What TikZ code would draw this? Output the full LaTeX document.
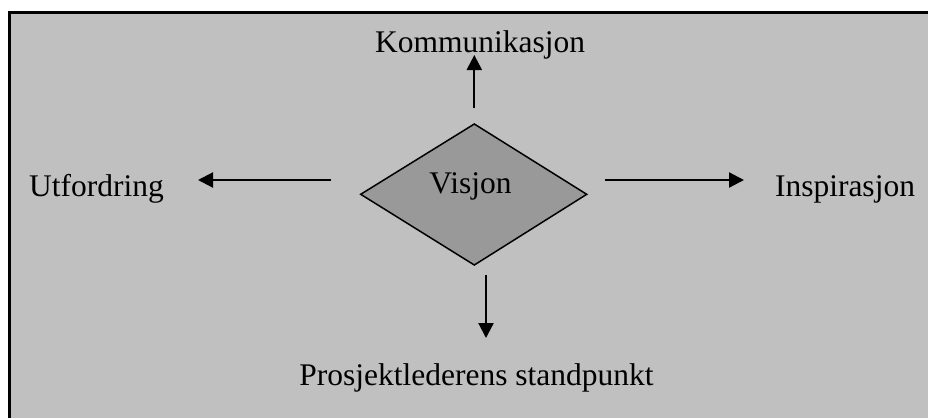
\documentclass[tikz,border=0pt]{standalone}
\usepackage{fontspec}
\setmainfont{Liberation Serif}
\usetikzlibrary{arrows.meta}
\definecolor{bggray}{HTML}{C0C0C0}
\definecolor{dmgray}{HTML}{999999}
\tikzset{
  lbl/.style={anchor=base, inner sep=0pt, font=\fontsize{31.5}{36}\selectfont},
  arr/.style={line width=2.2pt, -{Triangle[length=15pt,width=15pt]}},
}
\begin{document}
\begin{tikzpicture}[x=1pt,y=-1pt]
\useasboundingbox (0,0) rectangle (928,418);
\fill[bggray] (9,12) rectangle (928,418);
\draw[line width=3pt] (9,418) -- (9,12) -- (928,12);
% diamond
\draw[fill=dmgray, line width=1.5pt] (360.7,194.3) coordinate (dl) -- (474.3,124) coordinate (dt) -- (586.7,194.3) coordinate (dr) -- (474.3,265) coordinate (db) -- cycle;
\node[lbl] (vis) at (470.5,193) {Visjon};
\node[lbl] (kom) at (480,52) {Kommunikasjon};
\node[lbl] (utf) at (96.5,196.5) {Utfordring};
\node[lbl] (ins) at (845,196.5) {Inspirasjon};
\node[lbl] (pro) at (476.5,385) {Prosjektlederens standpunkt};
\coordinate (us) at (474.3,108); \coordinate (ue) at (474.3,55);
\coordinate (ls) at (331,180); \coordinate (le) at (198,180);
\coordinate (rs) at (605,180); \coordinate (re) at (744,180);
\coordinate (ds) at (486,275); \coordinate (de) at (486,338);
\draw[arr] (us) -- (ue);
\draw[arr] (ls) -- (le);
\draw[arr] (rs) -- (re);
\draw[arr] (ds) -- (de);
\end{tikzpicture}
\end{document}
